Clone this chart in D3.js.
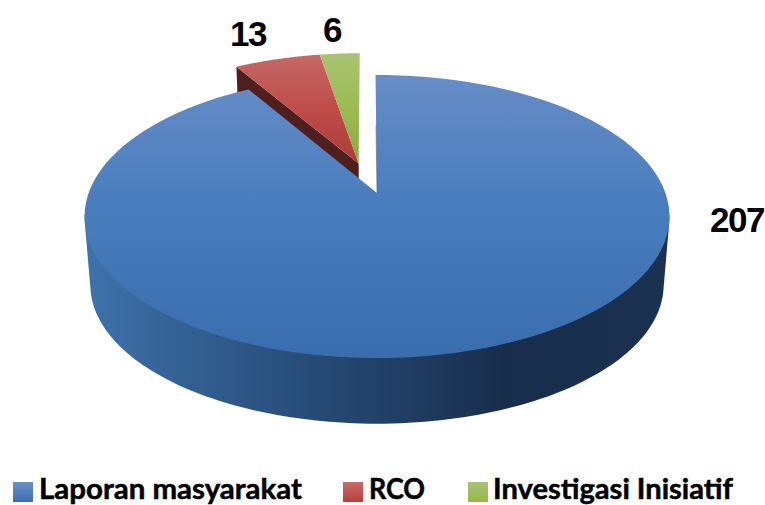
<!DOCTYPE html>
<html>
<head>
<meta charset="utf-8">
<script src="https://cdnjs.cloudflare.com/ajax/libs/d3/7.8.5/d3.min.js"></script>
<style>
  html, body { margin: 0; padding: 0; background: #fff; }
  svg { display: block; }
</style>
</head>
<body>
<script>
const categories = ['Laporan masyarakat', 'RCO', 'Investigasi Inisiatif'];
const values = [207, 13, 6];

const svgWidth = 765;
const svgHeight = 505;

// perspective of the disc, fitted to the picture
const cx = 377, cy = 193;
const rx = 288.4, ry = 137.6, k = 0.166;
const shrink = 0.98, depth = 69;
const startAngle = -0.006;
const exploded = [[0, 0], [-0.066, 0.222], [-0.066, 0.222]];

const svg = d3.select('body').append('svg')
  .attr('width', svgWidth)
  .attr('height', svgHeight);

const defs = svg.append('defs');

function linearGrad(id, x1, y1, x2, y2, stops) {
  const g = defs.append('linearGradient')
    .attr('id', id)
    .attr('gradientUnits', 'userSpaceOnUse')
    .attr('x1', x1).attr('y1', y1).attr('x2', x2).attr('y2', y2);
  stops.forEach(s => g.append('stop').attr('offset', s[0]).attr('stop-color', s[1]));
}

linearGrad('top0', 0, 75, 0, 358, [[0, '#668dc6'], [0.45, '#4a7dbe'], [1, '#3a6dae']]);
linearGrad('top1', 0, 55, 0, 165, [[0, '#c56865'], [0.5, '#be4c48'], [1, '#ab3c39']]);
linearGrad('top2', 0, 52, 0, 165, [[0, '#a9c473'], [0.5, '#9abb52'], [1, '#8aab45']]);
linearGrad('side0', 86, 0, 671, 0, [[0, '#3f73ac'], [0.12, '#36659a'], [0.4, '#264a75'], [0.72, '#182d4c'], [1, '#1b3151']]);
linearGrad('leg0', 0, 482, 0, 502, [[0, '#6a90c6'], [1, '#3a6eaf']]);
linearGrad('leg1', 0, 482, 0, 502, [[0, '#c96c69'], [1, '#b83f3b']]);
linearGrad('leg2', 0, 482, 0, 502, [[0, '#a9c473'], [1, '#94b84a']]);

const slices = d3.pie().sort(null).startAngle(startAngle).endAngle(startAngle + 2 * Math.PI)(values);

// unit circle point -> screen, lower=true gives the bottom face of the disc
function project(u, v, lower) {
  const w = 1 + k * v;
  const x = rx * u / w, y = -ry * v / w;
  return lower ? [cx + shrink * x, cy + shrink * y + depth] : [cx + x, cy + y];
}

function rim(i, a0, a1, lower) {
  const [ox, oy] = exploded[i];
  return d3.range(0, 121).map(n => {
    const a = a0 + (a1 - a0) * n / 120;
    return project(ox + Math.sin(a), oy + Math.cos(a), lower);
  });
}

const line = d3.line();

// wall under the left cut of the exploded group, the big slice covers most of it
const rco = slices[1];
svg.append('path')
  .attr('d', line([
    rim(1, rco.startAngle, rco.startAngle, false)[0],
    project(exploded[1][0], exploded[1][1], false),
    project(exploded[1][0], exploded[1][1], true),
    rim(1, rco.startAngle, rco.startAngle, true)[0]
  ]) + 'Z')
  .attr('fill', '#4f1f1e');

[1, 2].forEach(i => {
  const d = slices[i];
  const apex = project(exploded[i][0], exploded[i][1], false);
  svg.append('path')
    .attr('d', line([apex].concat(rim(i, d.startAngle, d.endAngle, false))) + 'Z')
    .attr('fill', `url(#top${i})`);
});

// front wall of the big slice: outline around the front of both faces
const wall = d3.polygonHull(
  rim(0, Math.PI * 0.55, Math.PI * 1.45, false).concat(rim(0, Math.PI * 0.55, Math.PI * 1.45, true))
);
svg.append('path')
  .attr('d', line(wall) + 'Z')
  .attr('fill', 'url(#side0)');

// top of the big slice
const big = slices[0];
svg.append('path')
  .attr('d', line([project(0, 0, false)].concat(rim(0, big.startAngle, big.endAngle, false))) + 'Z')
  .attr('fill', 'url(#top0)');

// thin dark edge on the cut next to the gap
svg.append('line')
  .attr('x1', cx - 1).attr('y1', 125)
  .attr('x2', cx).attr('y2', cy)
  .attr('stroke', '#2c4a73')
  .attr('stroke-opacity', 0.45)
  .attr('stroke-width', 1);

// value labels
const labelX = [737, 248, 332];
const labelY = [232, 46, 42];
svg.selectAll('.value')
  .data(values)
  .enter()
  .append('text')
  .attr('class', 'value')
  .attr('x', (d, i) => labelX[i])
  .attr('y', (d, i) => labelY[i])
  .attr('text-anchor', 'middle')
  .attr('font-family', '"Liberation Sans", Arial, sans-serif')
  .attr('font-weight', 700)
  .attr('font-size', 35)
  .attr('letter-spacing', -1.5)
  .attr('fill', '#000')
  .text(d => d);

// legend
const swatchX = [13, 343, 468];
const textX = [39, 369, 493];
const textW = [263, 56, 240];
const legend = svg.selectAll('.legend')
  .data(categories)
  .enter()
  .append('g')
  .attr('class', 'legend');

legend.append('rect')
  .attr('x', (d, i) => swatchX[i])
  .attr('y', 482)
  .attr('width', 20)
  .attr('height', 20)
  .attr('fill', (d, i) => `url(#leg${i})`);

legend.append('text')
  .attr('x', (d, i) => textX[i])
  .attr('y', 498.5)
  .attr('textLength', (d, i) => textW[i])
  .attr('lengthAdjust', 'spacingAndGlyphs')
  .attr('font-family', 'Lato, "Open Sans", sans-serif')
  .attr('font-weight', 700)
  .attr('font-size', 28)
  .attr('fill', '#000')
  .attr('stroke', '#000')
  .attr('stroke-width', 0.5)
  .text(d => d);
</script>
</body>
</html>
